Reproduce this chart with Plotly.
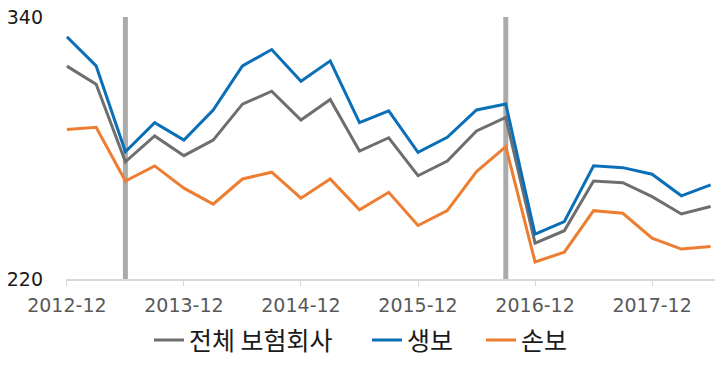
import plotly.graph_objects as go

quarters = ["2012-12", "2013-03", "2013-06", "2013-09", "2013-12", "2014-03", "2014-06",
            "2014-09", "2014-12", "2015-03", "2015-06", "2015-09", "2015-12", "2016-03",
            "2016-06", "2016-09", "2016-12", "2017-03", "2017-06", "2017-09", "2017-12",
            "2018-03", "2018-06"]
total = [317.5, 309.2, 273.7, 285.5, 276.5, 283.6, 300.1, 306.0, 292.8, 302.2, 278.6, 284.7,
         267.3, 274.0, 287.8, 294.0, 236.4, 242.1, 264.9, 264.1, 257.7, 249.8, 253.2]
life = [330.9, 317.6, 278.3, 291.6, 283.6, 297.4, 317.6, 325.1, 310.6, 319.9, 291.6, 297.0,
        278.0, 284.9, 297.4, 300.1, 240.5, 246.3, 271.9, 271.0, 268.0, 258.1, 263.1]
nonlife = [288.5, 289.5, 264.9, 271.8, 261.6, 254.3, 265.8, 268.9, 257.0, 265.8, 251.7, 259.7,
           244.5, 251.3, 269.2, 280.6, 227.8, 232.3, 251.3, 250.1, 238.7, 233.7, 234.9]
names = ["전체 보험회사", "생보", "손보"]
marker_quarters = ["2013-06", "2016-09"]
tick_labels = ["2012-12", "2013-12", "2014-12", "2015-12", "2016-12", "2017-12"]
y_min, y_max = 220, 340

idx = list(range(len(quarters)))
pos = {q: i for i, q in enumerate(quarters)}

fig = go.Figure()
for q in marker_quarters:
    fig.add_trace(go.Scatter(x=[pos[q], pos[q]], y=[y_min, y_max], mode="lines",
                             line=dict(color="#ABABAB", width=5), showlegend=False,
                             hoverinfo="skip"))

colors = ["#6E6E6E", "#0B6FB8", "#ED7D31"]
legend_ids = ["legend", "legend2", "legend3"]
legend_x = [149, 367, 481]
for name, vals, c, lg in zip(names, [total, life, nonlife], colors, legend_ids):
    fig.add_trace(go.Scatter(x=idx, y=vals, mode="lines", name=name, legend=lg,
                             line=dict(color=c, width=3)))

legend_style = dict(orientation="h", xref="container", yref="container", y=0.10,
                    xanchor="left", yanchor="middle", bgcolor="rgba(0,0,0,0)",
                    font=dict(family="Noto Sans CJK KR", size=25, color="#1A1A1A"),
                    itemwidth=30)

fig.update_layout(
    width=726, height=378,
    margin=dict(l=66, r=11, t=17, b=99),
    plot_bgcolor="white", paper_bgcolor="white",
    font=dict(family="DejaVu Sans", color="#262626"),
    xaxis=dict(range=[-0.03, 22.15], tickvals=[pos[t] for t in tick_labels],
               ticktext=tick_labels, showgrid=False, showline=True,
               linecolor="#D9D9D9", linewidth=1.5, ticks="outside", ticklen=5,
               tickcolor="#D9D9D9", tickfont=dict(size=19, color="#595959"),
               ticklabelstandoff=3, zeroline=False, automargin=False),
    yaxis=dict(range=[y_min, y_max], tickvals=[y_min, y_max], showgrid=True,
               gridcolor="#D9D9D9", gridwidth=1.5, zeroline=False, showline=False,
               tickfont=dict(size=19, color="#1A1A1A"), ticklabelstandoff=22,
               automargin=False),
    legend=dict(x=legend_x[0] / 726, **legend_style),
    legend2=dict(x=legend_x[1] / 726, **legend_style),
    legend3=dict(x=legend_x[2] / 726, **legend_style),
    showlegend=True,
)

fig.write_html("out.html", config={"displayModeBar": False},
               post_script="document.body.style.margin='0';")
